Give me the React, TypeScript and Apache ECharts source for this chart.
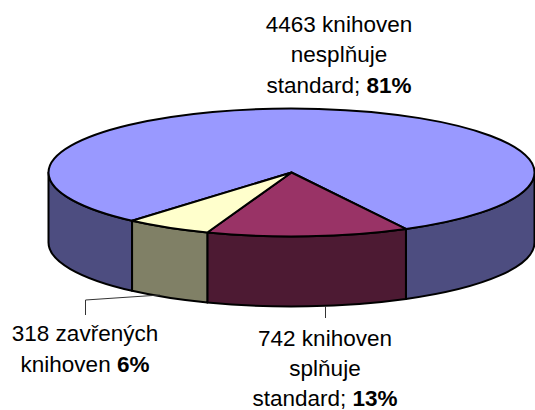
import React, { useEffect, useRef } from "react";
import * as echarts from "echarts";

const categories = ["nesplňuje standard", "splňuje standard", "zavřených knihoven"];
const libraryCounts = [4463, 742, 318];
const topColors = ["#9999FF", "#993366", "#FFFFCC"];
const sideColors = ["#4D4D80", "#4D1A33", "#808066"];
const labelLines = [
  ["4463 knihoven", "nesplňuje", "standard; "],
  ["742 knihoven", "splňuje", "standard; "],
  ["318 zavřených", "knihoven "],
];
const percentLabels = ["81%", "13%", "6%"];

const CX = 291.5;
const CY = 172.5;
const RX = 243;
const RY = 64;
const DEPTH = 70;
const START = 131;
const total = libraryCounts.reduce((a, b) => a + b, 0);

const pt = (deg: number, dy = 0): [number, number] => {
  const r = (deg * Math.PI) / 180;
  return [CX + RX * Math.cos(r), CY + RY * Math.sin(r) + dy];
};

const arcTo = (from: number, to: number, dy: number) => {
  const [x, y] = pt(to, dy);
  const large = Math.abs(to - from) > 180 ? 1 : 0;
  const sweep = to > from ? 1 : 0;
  return `A ${RX} ${RY} 0 ${large} ${sweep} ${x} ${y}`;
};

const topPath = (a0: number, a1: number) => {
  const [x0, y0] = pt(a0);
  return `M ${CX} ${CY} L ${x0} ${y0} ${arcTo(a0, a1, 0)} Z`;
};

const sidePath = (a0: number, a1: number) => {
  const [x0, y0] = pt(a0);
  const [x1, y1] = pt(a1, DEPTH);
  return `M ${x0} ${y0} ${arcTo(a0, a1, 0)} L ${x1} ${y1} ${arcTo(a1, a0, DEPTH)} Z`;
};

const visibleRanges = (a0: number, a1: number) => {
  const out: [number, number][] = [];
  for (let k = 0; k <= 2; k++) {
    const lo = Math.max(a0, 360 * k);
    const hi = Math.min(a1, 180 + 360 * k);
    if (hi > lo) out.push([lo, hi]);
  }
  return out;
};

const FONT = "'Liberation Sans', Arial, sans-serif";
const FS = 22.5;
const rich = {
  r: { fontFamily: FONT, fontSize: FS, lineHeight: 23, fill: "#000", color: "#000" },
  b: { fontFamily: FONT, fontSize: FS, lineHeight: 23, fontWeight: "bold", fill: "#000", color: "#000" },
};

const labelX = [339, 325, 85];
const labelLineY = [
  [24, 54.5, 85],
  [338, 368.5, 398],
  [333, 364],
];

const labelElements = labelLines.flatMap((lines, i) =>
  lines.map((l, j) => ({
    type: "text",
    silent: true,
    z: 10,
    x: labelX[i],
    y: labelLineY[i][j],
    style: {
      text: j === lines.length - 1 ? `{r|${l}}{b|${percentLabels[i]}}` : `{r|${l}}`,
      rich,
      align: "center",
      verticalAlign: "middle",
      fontFamily: FONT,
      fontSize: FS,
      fill: "#000",
    },
  }))
);

export default function App() {
  const ref = useRef<HTMLDivElement>(null);
  useEffect(() => {
    const chart = echarts.init(ref.current!, null, { renderer: "svg" });
    const renderItem = (_: any, api: any) => {
      const idx = api.value(2);
      let a0 = START;
      for (let i = 0; i < idx; i++) a0 += (libraryCounts[i] / total) * 360;
      const a1 = a0 + (api.value(0) / total) * 360;
      const stroke = { stroke: "#000", lineWidth: 2, lineJoin: "round" };
      const children: any[] = visibleRanges(a0, a1).map(([lo, hi]) => ({
        type: "path",
        shape: { pathData: sidePath(lo, hi) },
        style: { fill: sideColors[idx], ...stroke },
      }));
      children.push({
        type: "path",
        shape: { pathData: topPath(a0, a1) },
        style: { fill: topColors[idx], ...stroke },
      });
      return { type: "group", children };
    };
    chart.setOption({
      animation: false,
      backgroundColor: "#fff",
      tooltip: { show: false },
      series: [
        {
          type: "custom",
          coordinateSystem: "none",
          silent: true,
          renderItem,
          data: categories.map((name, i) => ({ name, value: [libraryCounts[i], name, i] })),
        },
      ],
      graphic: [
        {
          type: "polyline",
          silent: true,
          z: 10,
          shape: { points: [[85.5, 315], [85.5, 300], [160, 295]] },
          style: { stroke: "#333", lineWidth: 1, fill: "none" },
        },
        {
          type: "line",
          silent: true,
          z: 10,
          shape: { x1: 325.5, y1: 306, x2: 325.5, y2: 318 },
          style: { stroke: "#333", lineWidth: 1 },
        },
        ...labelElements,
      ],
    });
    return () => chart.dispose();
  }, []);
  return (
    <div
      ref={ref}
      style={{ position: "absolute", left: 0, top: 0, width: 535, height: 410 }}
    />
  );
}
